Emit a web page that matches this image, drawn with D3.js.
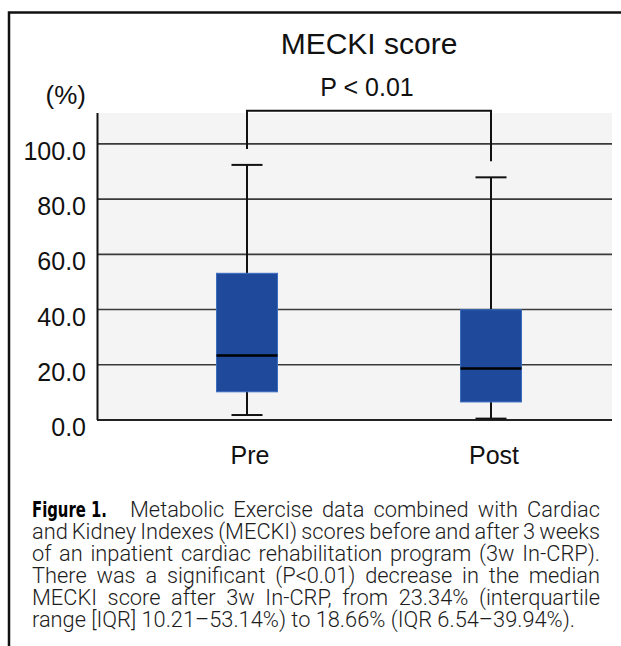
<!DOCTYPE html>
<html>
<head>
<meta charset="utf-8">
<script src="https://cdn.jsdelivr.net/npm/d3@7"></script>
<style>
  html, body { margin: 0; padding: 0; background: #fff; }
  body { position: relative; width: 621px; height: 646px; overflow: hidden; }
  svg { display: block; position: absolute; left: 0; top: 0; }
  #caption {
    position: absolute; left: 32px; top: 499px; width: 568px;
    font-family: Roboto, "Liberation Sans", Arial, sans-serif;
    font-weight: 300; font-size: 21.8px; color: #1c1c1c;
  }
  #caption .line {
    height: 22.1px; line-height: 22.1px; white-space: nowrap;
    text-align: justify; text-align-last: justify;
  }
  #caption .line.last { text-align: left; text-align-last: left; }
  #caption .lead {
    display: inline-block; width: 75px; margin-right: 23px;
    white-space: nowrap; overflow: visible;
  }
  #caption .lead span {
    display: inline-block; transform-origin: 0 0;
    font-family: "Liberation Sans Narrow", "DejaVu Sans Condensed", "Liberation Sans", Arial, sans-serif;
    font-weight: bold; font-size: 21px; color: #000;
  }
</style>
</head>
<body>
<svg id="chart" width="621" height="646" font-family="Liberation Sans, Arial, Helvetica, sans-serif"></svg>
<div id="caption"></div>
<script>
// MECKI score before / after rehabilitation (box plot summary values, %)
const categories  = ["Pre", "Post"];
const whiskerLow  = [1.8, 0.5];
const q1Values    = [10.21, 6.54];
const medians     = [23.34, 18.66];
const q3Values    = [53.14, 39.94];
const whiskerHigh = [92.4, 87.9];

const yTicks = [0, 20, 40, 60, 80, 100];
const titleText = "MECKI score";
const pText = "P < 0.01";
const unitText = "(%)";

const captionLead = "Figure 1.";
const captionLines = [
  "Metabolic Exercise data combined with Cardiac",
  "and Kidney Indexes (MECKI) scores before and after 3 weeks",
  "of an inpatient cardiac rehabilitation program (3w In-CRP).",
  "There was a significant (P<0.01) decrease in the median",
  "MECKI score after 3w In-CRP, from 23.34% (interquartile",
  "range [IQR] 10.21\u201353.14%) to 18.66% (IQR 6.54\u201339.94%)."
];

const svg = d3.select("#chart");

// outer figure frame (only left/top edges fall inside the page)
svg.append("rect")
  .attr("x", 9).attr("y", 12.5)
  .attr("width", 700).attr("height", 700)
  .attr("fill", "none").attr("stroke", "#111").attr("stroke-width", 2.5);

const plot = { left: 97, right: 612, top: 113, bottom: 420 };

const y = d3.scaleLinear().domain([0, 111.2]).range([plot.bottom, plot.top]);
const x = d3.scalePoint().domain(categories).range([247, 491]);

// plot background
svg.append("rect")
  .attr("x", plot.left).attr("y", plot.top)
  .attr("width", plot.right - plot.left).attr("height", plot.bottom - plot.top)
  .attr("fill", "#f4f4f4");

// horizontal gridlines
svg.append("g").selectAll("line").data(yTicks).join("line")
  .attr("x1", plot.left).attr("x2", plot.right)
  .attr("y1", d => y(d)).attr("y2", d => y(d))
  .attr("stroke", d => d === 0 ? "#222" : "#3a3a3a")
  .attr("stroke-width", d => d === 0 ? 2 : 1.6);

// y axis labels via d3 axis (domain and tick lines hidden)
const yAxis = svg.append("g")
  .attr("transform", `translate(${plot.left},0)`)
  .call(d3.axisLeft(y).tickValues(yTicks).tickFormat(d3.format(".1f")).tickSize(0).tickPadding(11));
yAxis.attr("font-family", null).attr("font-size", null);
yAxis.select(".domain").remove();
yAxis.selectAll("text")
  .attr("font-size", 25)
  .attr("fill", "#111")
  .attr("dy", "0.62em");

// left axis line
svg.append("line")
  .attr("x1", plot.left + 0.5).attr("x2", plot.left + 0.5)
  .attr("y1", plot.top).attr("y2", plot.bottom)
  .attr("stroke", "#111").attr("stroke-width", 2);

// box plot marks
const boxW = 61, capW = 31;
const boxes = svg.append("g").selectAll("g").data(categories).join("g");

boxes.append("line")
  .attr("x1", d => x(d)).attr("x2", d => x(d))
  .attr("y1", (d, i) => y(whiskerLow[i])).attr("y2", (d, i) => y(whiskerHigh[i]))
  .attr("stroke", "#111").attr("stroke-width", 2);
boxes.append("line")
  .attr("x1", d => x(d) - capW / 2).attr("x2", d => x(d) + capW / 2)
  .attr("y1", (d, i) => y(whiskerHigh[i])).attr("y2", (d, i) => y(whiskerHigh[i]))
  .attr("stroke", "#111").attr("stroke-width", 2);
boxes.append("line")
  .attr("x1", d => x(d) - capW / 2).attr("x2", d => x(d) + capW / 2)
  .attr("y1", (d, i) => y(whiskerLow[i])).attr("y2", (d, i) => y(whiskerLow[i]))
  .attr("stroke", "#111").attr("stroke-width", 2);
boxes.append("rect")
  .attr("x", d => x(d) - boxW / 2)
  .attr("y", (d, i) => y(q3Values[i]))
  .attr("width", boxW)
  .attr("height", (d, i) => y(q1Values[i]) - y(q3Values[i]))
  .attr("fill", "#1f4a9b")
  .attr("stroke", "#3b6cc0").attr("stroke-width", 1);
boxes.append("line")
  .attr("x1", d => x(d) - boxW / 2).attr("x2", d => x(d) + boxW / 2)
  .attr("y1", (d, i) => y(medians[i])).attr("y2", (d, i) => y(medians[i]))
  .attr("stroke", "#000").attr("stroke-width", 2.5);

// category labels
svg.append("g").selectAll("text").data(categories).join("text")
  .attr("x", d => x(d) + 3).attr("y", 464)
  .attr("text-anchor", "middle")
  .attr("font-size", 25).attr("fill", "#111")
  .text(d => d);

// significance bracket
const bracketTop = y(112);
const legGap = 16;
svg.append("path")
  .attr("d", d3.line()([
    [x("Pre"), y(whiskerHigh[0]) - legGap],
    [x("Pre"), bracketTop],
    [x("Post"), bracketTop],
    [x("Post"), y(whiskerHigh[1]) - legGap]
  ]))
  .attr("fill", "none").attr("stroke", "#111").attr("stroke-width", 2);

// titles
svg.append("text").attr("x", 369).attr("y", 54)
  .attr("text-anchor", "middle").attr("font-size", 30).attr("fill", "#111")
  .text(titleText);
svg.append("text").attr("x", 367).attr("y", 96)
  .attr("text-anchor", "middle").attr("font-size", 25).attr("fill", "#111")
  .text(pText);
svg.append("text").attr("x", 86).attr("y", 104)
  .attr("text-anchor", "end").attr("font-size", 26).attr("fill", "#111")
  .text(unitText);

// figure caption: fixed line breaks, justified except the last line
const caption = d3.select("#caption");
const lineWidth = 568;
captionLines.forEach((line, li) => {
  const row = caption.append("div")
    .attr("class", li === captionLines.length - 1 ? "line last" : "line");
  let avail = lineWidth;
  if (li === 0) {
    const inner = row.append("span").attr("class", "lead").append("span").text(captionLead);
    const w = inner.node().getBoundingClientRect().width;
    inner.style("transform", `scaleX(${75 / w})`);
    avail -= 75 + 23;
  }
  const body = row.append("span").text(line);
  // tighten word spacing on any line whose natural width exceeds the column
  const natural = body.node().getBoundingClientRect().width;
  if (natural > avail) {
    const spaces = line.split(" ").length - 1;
    row.style("word-spacing", `${-(natural - avail) / spaces - 0.3}px`);
  }
});
</script>
</body>
</html>
